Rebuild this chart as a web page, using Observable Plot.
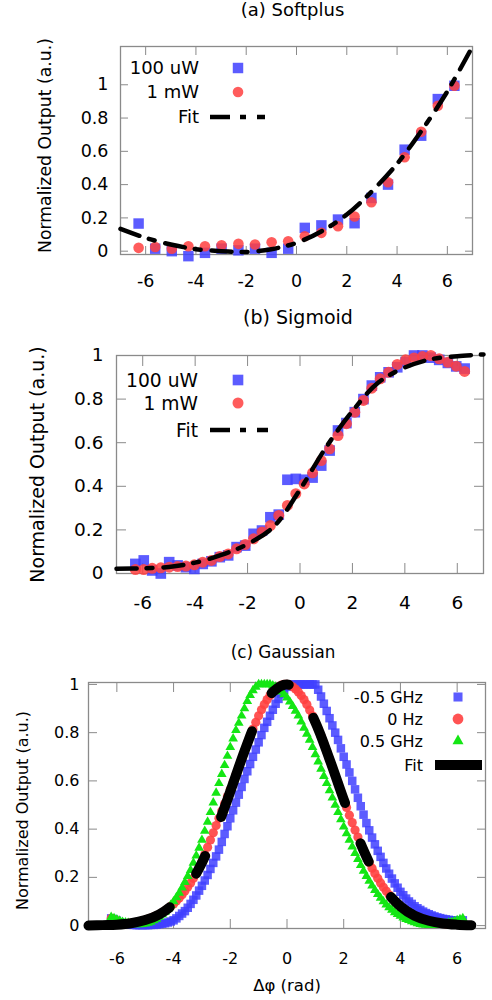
<!DOCTYPE html>
<html>
<head>
<meta charset="utf-8">
<script src="https://cdn.jsdelivr.net/npm/d3@7"></script>
<script src="https://cdn.jsdelivr.net/npm/@observablehq/plot@0.6"></script>
<style>
  body { margin: 0; background: #fff; }
  #chart svg { display: block; }
</style>
</head>
<body>
<div id="chart"></div>
<script>
// ---- shared ticks
const xTicks = [-6, -4, -2, 0, 2, 4, 6]
const yTicks = [0, 0.2, 0.4, 0.6, 0.8, 1]
const yLabel = "Normalized Output (a.u.)"

// ---- (a) Softplus
const titleA = "(a) Softplus"
const legendA = ["100 uW", "1 mW", "Fit"]
const xA = [-6.28, -5.62, -4.96, -4.30, -3.64, -2.98, -2.31, -1.65, -0.99, -0.33,
  0.33, 0.99, 1.65, 2.31, 2.98, 3.64, 4.30, 4.96, 5.62, 6.28]
const blueA = [0.166, 0.015, 0.0, -0.03, -0.01, 0.015, 0.005, 0.015, -0.01, 0.015,
  0.14, 0.155, 0.19, 0.168, 0.32, 0.40, 0.61, 0.694, 0.914, 0.994]
const redA = [0.02, 0.025, 0.015, 0.03, 0.03, 0.035, 0.044, 0.04, 0.054, 0.06,
  0.09, 0.11, 0.15, 0.208, 0.294, 0.414, 0.564, 0.718, 0.874, 0.994]
const fitXA = [-7, -6, -5, -4, -3, -2, -1, 0, 1, 2, 3, 4, 5, 6, 7]
const fitA = [0.134, 0.08, 0.04, 0.012, 0.0, -0.005, 0.012, 0.05, 0.12, 0.22, 0.36, 0.525, 0.73, 0.96, 1.23]

// ---- (b) Sigmoid
const titleB = "(b) Sigmoid"
const legendB = ["100 uW", "1 mW", "Fit"]
const xB = [-6.28, -5.96, -5.64, -5.31, -4.99, -4.67, -4.35, -4.03, -3.71, -3.38,
  -3.06, -2.74, -2.42, -2.09, -1.77, -1.45, -1.13, -0.81, -0.48, -0.16,
  0.16, 0.48, 0.81, 1.13, 1.45, 1.77, 2.09, 2.42, 2.74, 3.06,
  3.38, 3.71, 4.03, 4.35, 4.67, 4.99, 5.31, 5.64, 5.96, 6.28]
const blueB = [0.044, 0.06, 0.014, 0.0, 0.052, 0.037, 0.029, 0.021, 0.044, 0.056,
  0.075, 0.083, 0.121, 0.128, 0.182, 0.197, 0.258, 0.27, 0.43, 0.434,
  0.43, 0.44, 0.495, 0.564, 0.656, 0.69, 0.74, 0.8, 0.862, 0.9,
  0.923, 0.946, 0.97, 1.0, 1.0, 0.99, 0.98, 0.966, 0.95, 0.94]
const redB = [0.018, 0.018, 0.024, 0.026, 0.029, 0.032, 0.034, 0.04, 0.052, 0.06,
  0.078, 0.09, 0.113, 0.133, 0.159, 0.19, 0.22, 0.266, 0.312, 0.366,
  0.411, 0.462, 0.518, 0.572, 0.633, 0.687, 0.74, 0.794, 0.85, 0.893,
  0.923, 0.959, 0.98, 0.989, 0.995, 1.0, 0.985, 0.969, 0.951, 0.927]
const fitXB = [-7, -6, -5, -4, -3, -2, -1, 0, 1, 2, 3, 4, 5, 6, 7]
const fitB = [0.022, 0.024, 0.03, 0.05, 0.085, 0.135, 0.215, 0.385, 0.58, 0.745, 0.877, 0.945, 0.983, 0.997, 1.005]

// ---- (c) Gaussian
const titleC = "(c) Gaussian"
const xLabelC = "Δφ (rad)"
const legendC = ["-0.5 GHz", "0 Hz", "0.5 GHz", "Fit"]
const xC = [-6.2, -6.1, -6.0, -5.9, -5.8, -5.7, -5.6, -5.5, -5.4, -5.3,
  -5.2, -5.1, -5.0, -4.9, -4.8, -4.7, -4.6, -4.5, -4.4, -4.3,
  -4.2, -4.1, -4.0, -3.9, -3.8, -3.7, -3.6, -3.5, -3.4, -3.3,
  -3.2, -3.1, -3.0, -2.9, -2.8, -2.7, -2.6, -2.5, -2.4, -2.3,
  -2.2, -2.1, -2.0, -1.9, -1.8, -1.7, -1.6, -1.5, -1.4, -1.3,
  -1.2, -1.1, -1.0, -0.9, -0.8, -0.7, -0.6, -0.5, -0.4, -0.3,
  -0.2, -0.1, 0.0, 0.1, 0.2, 0.3, 0.4, 0.5, 0.6, 0.7,
  0.8, 0.9, 1.0, 1.1, 1.2, 1.3, 1.4, 1.5, 1.6, 1.7,
  1.8, 1.9, 2.0, 2.1, 2.2, 2.3, 2.4, 2.5, 2.6, 2.7,
  2.8, 2.9, 3.0, 3.1, 3.2, 3.3, 3.4, 3.5, 3.6, 3.7,
  3.8, 3.9, 4.0, 4.1, 4.2, 4.3, 4.4, 4.5, 4.6, 4.7,
  4.8, 4.9, 5.0, 5.1, 5.2, 5.3, 5.4, 5.5, 5.6, 5.7,
  5.8, 5.9, 6.0, 6.1, 6.2]
const blueC = [0.03, 0.025, 0.02, 0.014, 0.01, 0.007, 0.005, 0.004, 0.003, 0.002,
  0.002, 0.002, 0.002, 0.002, 0.003, 0.003, 0.004, 0.006, 0.008, 0.01,
  0.013, 0.017, 0.022, 0.03, 0.04, 0.05, 0.06, 0.074, 0.09, 0.107,
  0.125, 0.145, 0.165, 0.187, 0.21, 0.235, 0.26, 0.287, 0.315, 0.347,
  0.38, 0.412, 0.445, 0.478, 0.51, 0.543, 0.575, 0.608, 0.64, 0.67,
  0.70, 0.73, 0.76, 0.79, 0.82, 0.845, 0.87, 0.895, 0.92, 0.94,
  0.96, 0.978, 0.99, 0.997, 1.0, 1.0, 1.0, 1.0, 1.0, 1.0,
  1.0, 1.0, 1.0, 0.978, 0.95, 0.92, 0.89, 0.86, 0.83, 0.80,
  0.77, 0.735, 0.70, 0.668, 0.635, 0.60, 0.565, 0.53, 0.495, 0.46,
  0.425, 0.395, 0.365, 0.337, 0.31, 0.285, 0.26, 0.237, 0.215, 0.195,
  0.175, 0.157, 0.14, 0.126, 0.112, 0.1, 0.09, 0.08, 0.072, 0.065,
  0.058, 0.052, 0.047, 0.042, 0.038, 0.034, 0.031, 0.028, 0.026, 0.024,
  0.022, 0.021, 0.02, 0.02, 0.022]
const redC = [0.03, 0.025, 0.02, 0.012, 0.008, 0.008, 0.009, 0.01, 0.012, 0.014,
  0.017, 0.02, 0.023, 0.027, 0.031, 0.036, 0.041, 0.047, 0.054, 0.062,
  0.07, 0.08, 0.09, 0.102, 0.114, 0.128, 0.143, 0.16, 0.177, 0.196,
  0.216, 0.24, 0.265, 0.295, 0.325, 0.355, 0.385, 0.415, 0.445, 0.475,
  0.505, 0.535, 0.565, 0.595, 0.625, 0.658, 0.69, 0.723, 0.755, 0.785,
  0.815, 0.843, 0.87, 0.895, 0.917, 0.937, 0.954, 0.969, 0.981, 0.99,
  0.997, 1.0, 1.0, 0.997, 0.99, 0.981, 0.969, 0.954, 0.937, 0.917,
  0.894, 0.87, 0.843, 0.815, 0.786, 0.755, 0.723, 0.69, 0.657, 0.623,
  0.59, 0.556, 0.523, 0.49, 0.458, 0.427, 0.396, 0.367, 0.338, 0.311,
  0.286, 0.261, 0.238, 0.216, 0.196, 0.177, 0.159, 0.143, 0.128, 0.114,
  0.102, 0.09, 0.08, 0.07, 0.062, 0.054, 0.047, 0.041, 0.036, 0.031,
  0.027, 0.023, 0.02, 0.017, 0.014, 0.012, 0.01, 0.009, 0.007, 0.006,
  0.006, 0.006, 0.008, 0.011, 0.015]
const greenC = [0.035, 0.03, 0.025, 0.02, 0.015, 0.012, 0.01, 0.008, 0.006, 0.005,
  0.005, 0.006, 0.008, 0.011, 0.015, 0.021, 0.028, 0.036, 0.045, 0.057,
  0.07, 0.085, 0.1, 0.117, 0.135, 0.157, 0.18, 0.205, 0.23, 0.26,
  0.29, 0.322, 0.355, 0.392, 0.43, 0.47, 0.51, 0.55, 0.59, 0.628,
  0.665, 0.703, 0.74, 0.775, 0.81, 0.84, 0.87, 0.9, 0.93, 0.955,
  0.975, 0.99, 1.0, 1.0, 1.0, 1.0, 1.0, 0.995, 0.99, 0.98,
  0.97, 0.958, 0.945, 0.928, 0.91, 0.89, 0.87, 0.845, 0.82, 0.795,
  0.77, 0.74, 0.71, 0.68, 0.65, 0.62, 0.59, 0.56, 0.53, 0.5,
  0.47, 0.44, 0.41, 0.382, 0.355, 0.327, 0.30, 0.275, 0.25, 0.227,
  0.205, 0.185, 0.165, 0.147, 0.13, 0.115, 0.1, 0.087, 0.075, 0.065,
  0.055, 0.047, 0.04, 0.033, 0.027, 0.022, 0.017, 0.013, 0.009, 0.006,
  0.004, 0.003, 0.002, 0.002, 0.002, 0.003, 0.004, 0.006, 0.008, 0.011,
  0.014, 0.018, 0.022, 0.026, 0.03]
const fitXC = [-7, -6.5, -6, -5.5, -5, -4.5, -4, -3.5, -3, -2.5, -2, -1.5, -1, -0.5,
  0, 0.5, 1, 1.5, 2, 2.5, 3, 3.5, 4, 4.5, 5, 5.5, 6, 6.5]
const fitC = [0.0, 0.002, 0.004, 0.01, 0.023, 0.047, 0.09, 0.159, 0.261, 0.396, 0.556, 0.723, 0.87, 0.969,
  1.0, 0.954, 0.843, 0.69, 0.523, 0.367, 0.238, 0.143, 0.08, 0.041, 0.02, 0.009, 0.004, 0.0015]

// ---- styling helpers
const gray = "#8a8a8a"
const blue = "#4040ff"
const red = "#ff4040"
const green = "#14e614"
const font = "DejaVu Sans"

function frameAxes(tick, fs, xPad, yPad) {
  const fmt = d => String(d)
  return [
    Plot.axisX(xTicks, {anchor: "bottom", tickSize: -tick, fill: "none", stroke: gray, label: null}),
    Plot.axisX(xTicks, {anchor: "top", tickSize: -tick, fill: "none", stroke: gray, label: null}),
    Plot.axisY(yTicks, {anchor: "left", tickSize: -tick, fill: "none", stroke: gray, label: null}),
    Plot.axisY(yTicks, {anchor: "right", tickSize: -tick, fill: "none", stroke: gray, label: null}),
    Plot.axisX(xTicks, {anchor: "bottom", tickSize: 0, tickPadding: xPad, fontSize: fs, fill: "black", tickFormat: fmt, label: null}),
    Plot.axisY(yTicks, {anchor: "left", tickSize: 0, tickPadding: yPad, fontSize: fs, fill: "black", tickFormat: fmt, label: null}),
    Plot.frame({stroke: gray, strokeWidth: 1.3})
  ]
}

// centred text placed relative to the frame
function label(str, anchor, dx, dy, fontSize, rotate = 0) {
  return Plot.text([str], {text: d => d, frameAnchor: anchor, textAnchor: "middle", lineAnchor: "middle",
    dx, dy, fontSize, rotate, fill: "black"})
}

// legend drawn in pixels relative to the frame
function legendMark(labels, keys, o) {
  return (index, scales, values, dim) => {
    const g = d3.create("svg:g").attr("font-family", font).attr("font-size", o.fs)
    const x0 = o.right ? dim.width - dim.marginRight : dim.marginLeft
    labels.forEach((text, i) => {
      const y = dim.marginTop + o.rows[i]
      const k = keys[i]
      g.append("text").attr("x", x0 + o.textX).attr("y", y).attr("dy", "0.36em")
        .attr("text-anchor", "end").attr("fill", "black").text(text)
      if (k.line) {
        g.append("line").attr("x1", x0 + o.keyX[0]).attr("x2", x0 + o.keyX[1])
          .attr("y1", y).attr("y2", y).attr("stroke", "black")
          .attr("stroke-width", k.width).attr("stroke-dasharray", k.dash || null)
      } else {
        const type = {square: d3.symbolSquare, circle: d3.symbolCircle, triangle: d3.symbolTriangle}[k.symbol]
        g.append("path").attr("d", d3.symbol(type, Math.PI * k.r * k.r)())
          .attr("transform", `translate(${x0 + o.markX},${y})`)
          .attr("fill", k.fill).attr("fill-opacity", k.opacity)
      }
    })
    return g.node()
  }
}

const dashA = "20,10,6,11"

// ---- (a)
const chartA = Plot.plot({
  width: 492, height: 300,
  marginTop: 46, marginBottom: 46, marginLeft: 120, marginRight: 20,
  style: {fontFamily: font, background: "white"},
  x: {domain: [-7, 7]},
  y: {domain: [-0.02, 1.23]},
  marks: [
    ...frameAxes(8, 17.5, 20, 12),
    Plot.dot(xA, {x: xA, y: blueA, symbol: "square", r: 5.9, fill: blue, fillOpacity: 0.85}),
    Plot.dot(xA, {x: xA, y: redA, symbol: "circle", r: 5.3, fill: red, fillOpacity: 0.85}),
    Plot.line(fitA, {x: fitXA, y: fitA, curve: "catmull-rom", stroke: "black", strokeWidth: 4.5, strokeDasharray: dashA}),
    label(titleA, "top", -4, -36, 18),
    label(yLabel, "left", -75, -5, 17.3, -90),
    legendMark(legendA, [
      {symbol: "square", r: 5.9, fill: blue, opacity: 0.85},
      {symbol: "circle", r: 5.3, fill: red, opacity: 0.85},
      {line: true, width: 4.5, dash: dashA}
    ], {fs: 18, rows: [22, 46, 71], textX: 79, markX: 118, keyX: [90, 145]})
  ]
})

// ---- (b)
const chartB = Plot.plot({
  width: 492, height: 330,
  marginTop: 55, marginBottom: 57, marginLeft: 116, marginRight: 9,
  style: {fontFamily: font, background: "white"},
  x: {domain: [-7, 7]},
  y: {domain: [0, 1]},
  marks: [
    ...frameAxes(10, 18.5, 22.4, 13),
    Plot.dot(xB, {x: xB, y: blueB, symbol: "square", r: 6, fill: blue, fillOpacity: 0.85}),
    Plot.dot(xB, {x: xB, y: redB, symbol: "circle", r: 5.5, fill: red, fillOpacity: 0.85}),
    Plot.line(fitB, {x: fitXB, y: fitB, curve: "catmull-rom", stroke: "black", strokeWidth: 4.5, strokeDasharray: dashA}),
    label(titleB, "top", -2, -38, 19),
    label(yLabel, "left", -79, 0, 19, -90),
    legendMark(legendB, [
      {symbol: "square", r: 6, fill: blue, opacity: 0.85},
      {symbol: "circle", r: 5.5, fill: red, opacity: 0.85},
      {line: true, width: 4.5, dash: dashA}
    ], {fs: 18.7, rows: [25, 48, 75], textX: 82, markX: 122, keyX: [94, 152]})
  ]
})

// ---- (c)
const chartC = Plot.plot({
  width: 492, height: 370,
  marginTop: 52, marginBottom: 72, marginLeft: 88, marginRight: 7,
  style: {fontFamily: font, background: "white"},
  x: {domain: [-7, 7]},
  y: {domain: [-0.012, 1.008]},
  marks: [
    ...frameAxes(9, 16, 24.3, 9),
    Plot.dot(xC, {x: xC, y: blueC, symbol: "square", r: 4.8, fill: blue, fillOpacity: 0.85}),
    Plot.dot(xC, {x: xC, y: redC, symbol: "circle", r: 4.6, fill: red, fillOpacity: 0.9}),
    Plot.dot(xC, {x: xC, y: greenC, symbol: "triangle", r: 3.6, fill: green}),
    Plot.line(fitC, {x: fitXC, y: fitC, curve: "catmull-rom", stroke: "black", strokeWidth: 10,
      strokeDasharray: "91,43,20,42", strokeDashoffset: 6}),
    label(titleC, "top", -4, -30, 16.8),
    label(yLabel, "left", -66, 5, 16, -90),
    label(xLabelC, "bottom", 0, 57, 16.5),
    legendMark(legendC, [
      {symbol: "square", r: 5.1, fill: blue, opacity: 0.85},
      {symbol: "circle", r: 5.4, fill: red, opacity: 0.9},
      {symbol: "triangle", r: 4.1, fill: green, opacity: 1},
      {line: true, width: 10}
    ], {fs: 16, right: true, rows: [15, 37, 59, 83], textX: -62, markX: -27, keyX: [-50, -3]})
  ]
})

d3.select('#chart').append(() => chartA)
d3.select('#chart').append(() => chartB)
d3.select('#chart').append(() => chartC)
</script>
</body>
</html>
